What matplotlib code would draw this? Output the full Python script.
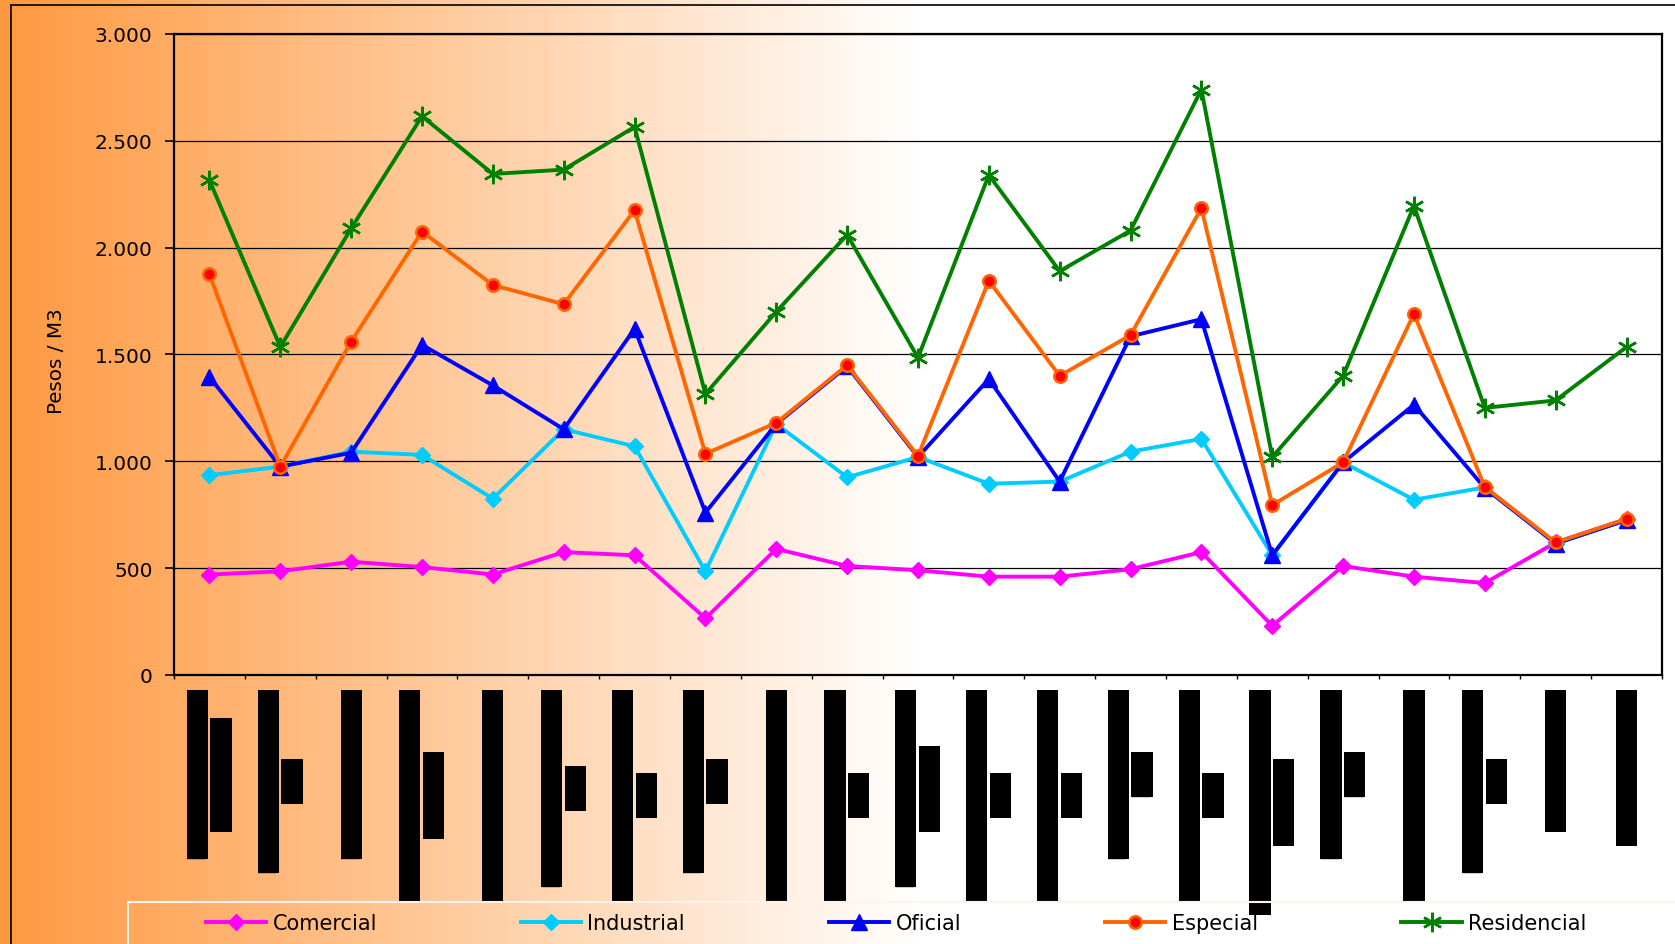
import numpy as np
import matplotlib.pyplot as plt
from matplotlib.ticker import FuncFormatter, MultipleLocator
from matplotlib.lines import Line2D
from matplotlib.patches import Rectangle

# Valores (Pesos / M3) por categoría
comercial = [470, 485, 530, 505, 470, 575, 560, 265, 590, 510, 490, 460, 460, 495, 575, 230, 510, 460, 430, 620, 730]
industrial = [935, 975, 1045, 1030, 825, 1150, 1070, 485, 1175, 925, 1020, 895, 905, 1045, 1105, 560, 995, 820, 878, 615, 725]
oficial = [1395, 975, 1040, 1545, 1355, 1150, 1620, 760, 1175, 1445, 1020, 1385, 905, 1585, 1665, 560, 995, 1265, 875, 615, 725]
especial = [1875, 975, 1560, 2075, 1825, 1735, 2175, 1035, 1180, 1450, 1025, 1845, 1400, 1590, 2185, 795, 995, 1690, 880, 620, 730]
residencial = [2315, 1535, 2090, 2615, 2345, 2365, 2565, 1315, 1700, 2060, 1485, 2340, 1890, 2080, 2740, 1020, 1400, 2195, 1250, 1285, 1535]

# Etiquetas del eje x (tachadas en el original): largo de cada renglón
label_line1 = [12, 13, 12, 15, 15, 14, 15, 13, 15, 15, 14, 15, 15, 12, 15, 16, 12, 15, 13, 10, 11]
label_line2 = [8, 3, 0, 6, 0, 3, 3, 3, 0, 3, 6, 3, 3, 3, 3, 6, 3, 0, 3, 0, 0]
tick_labels = [("\u2588" * a, "\u2588" * b) for a, b in zip(label_line1, label_line2)]

series_names = ["Comercial", "Industrial", "Oficial", "Especial", "Residencial"]

plt.rcParams['font.family'] = 'DejaVu Sans'

fig = plt.figure(figsize=(16.75, 9.45), dpi=100)

# Fondo degradado naranja -> blanco
bg = fig.add_axes([0, 0, 1, 1], zorder=-10)
xs = np.linspace(0, 1, 1675)
t = np.clip(xs / 0.55, 0, 1)[:, None]
orange = np.array([255, 153, 64]) / 255
white = np.array([1.0, 1.0, 1.0])
rgb = orange * (1 - t) + white * t
bg.imshow(rgb[None, :, :], aspect='auto', extent=[0, 1, 0, 1])
bg.axis('off')

ax = fig.add_axes([0.1039, 0.2847, 0.9922 - 0.1039, 0.963 - 0.2847])
ax.set_facecolor('none')

x = np.arange(len(comercial))
lw = 2.8
ax.plot(x, comercial, color='#FF00FF', lw=lw, marker='D', ms=8.5, label=series_names[0])
ax.plot(x, industrial, color='#00CCFF', lw=lw, marker='D', ms=8.5, label=series_names[1])
ax.plot(x, oficial, color='#0000FF', lw=lw, marker='^', ms=11, label=series_names[2])
ax.plot(x, especial, color='#FF6600', lw=lw, marker='o', ms=9, markerfacecolor='#FF0000',
        markeredgecolor='#FF6600', markeredgewidth=1.8, label=series_names[3])
ax.plot(x, residencial, color='#008000', lw=lw, marker=(6, 2, 0), ms=14, markeredgewidth=1.8,
        label=series_names[4])

ax.set_xlim(-0.5, len(x) - 0.5)
ax.set_ylim(0, 3000)
ax.yaxis.set_major_locator(MultipleLocator(500))
ax.yaxis.set_major_formatter(FuncFormatter(lambda v, p: f"{int(v):,}".replace(",", ".")))
ax.grid(axis='y', color='black', lw=0.9)
ax.set_axisbelow(True)
for s in ax.spines.values():
    s.set_linewidth(1.6)
    s.set_color('black')

ax.tick_params(axis='y', direction='out', length=6.5, width=1.2, pad=9, labelsize=14.5)
ax.set_xticks(x)
ax.set_xticklabels([])
ax.set_xticks(np.arange(-0.5, len(x)), minor=True)
ax.tick_params(axis='x', which='major', length=0)
ax.tick_params(axis='x', which='minor', direction='out', length=3, width=1.0)

# Etiquetas del eje x: texto girado, cada renglón como bloque negro
block = dict(boxstyle='square,pad=0.08', facecolor='black', edgecolor='none')
for i, (l1, l2) in enumerate(tick_labels):
    t1 = ax.annotate(l1, xy=(i, 0), xycoords=('data', 'axes fraction'),
                     xytext=(-3 if l2 else 0, -16.5), textcoords='offset pixels',
                     rotation=90, ha='right' if l2 else 'center', va='top',
                     fontsize=13, color='black', bbox=block, annotation_clip=False)
    if l2:
        ax.annotate(l2, xy=(1, 0.5), xycoords=t1, xytext=(5.4, 0), textcoords='offset pixels',
                    rotation=90, ha='left', va='center', fontsize=13, color='black',
                    bbox=block, annotation_clip=False)

fig.text(57 / 1675, 0.618, "Pesos / M3", rotation=90, ha='center', va='center', fontsize=14.3)

# Marco exterior
fig.add_artist(Line2D([0.0064, 0.0064], [0, 0.9932], color='black', lw=1.2, transform=fig.transFigure))
fig.add_artist(Line2D([0.0064, 1], [0.9932, 0.9932], color='black', lw=1.2, transform=fig.transFigure))

# Caja de la leyenda
fig.add_artist(Rectangle((128 / 1675, -0.01), 1, 42 / 945 + 0.01, transform=fig.transFigure,
                         fill=False, edgecolor='#FFF3EC', lw=1.5, zorder=1))
fig.legend(loc='center', bbox_to_anchor=(0.535, 0.022), ncol=5, frameon=False, fontsize=15,
           handlelength=2.9, handletextpad=0.3, columnspacing=6.9)

fig.savefig('out.png', dpi=100)
